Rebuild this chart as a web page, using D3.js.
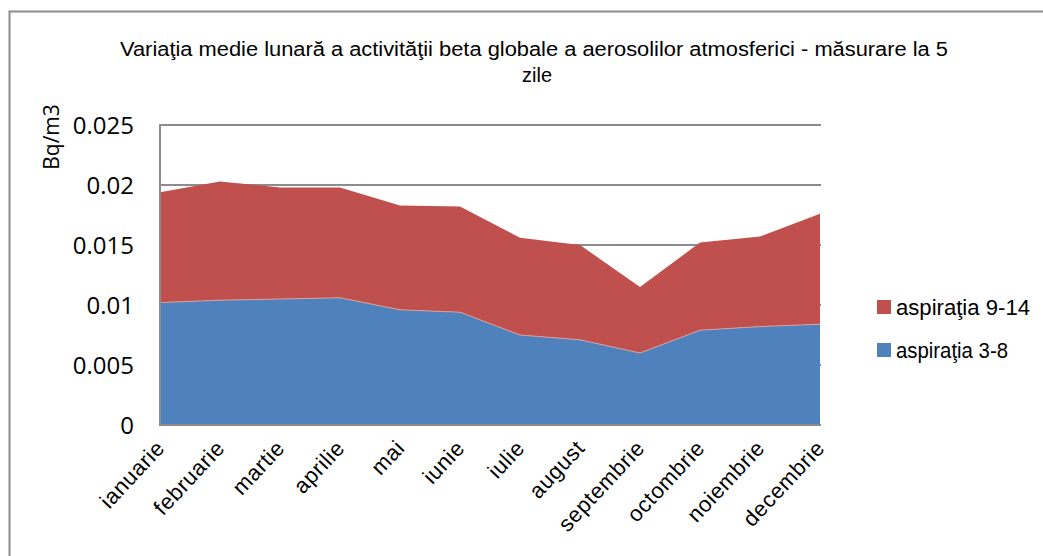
<!DOCTYPE html>
<html><head><meta charset="utf-8">
<script src="https://cdn.jsdelivr.net/npm/d3@7"></script>
<style>body{margin:0;background:#fff}svg{display:block}</style>
</head><body>
<svg id="c" width="1043" height="556"></svg>
<script>
const months = ["ianuarie","februarie","martie","aprilie","mai","iunie","iulie","august","septembrie","octombrie","noiembrie","decembrie"];
const asp38 = [0.0102,0.0104,0.0105,0.0106,0.0096,0.0094,0.0075,0.0071,0.0060,0.0079,0.0082,0.0084];
const asp914 = [0.0092,0.0099,0.0093,0.0092,0.0087,0.0088,0.0081,0.0079,0.0055,0.0073,0.0075,0.0092];
const yTicks = [0,0.005,0.01,0.015,0.02,0.025];
const seriesNames = ["aspiraţia 3-8","aspiraţia 9-14"];
const colors = ["#4F81BD","#C0504D"];
const title1 = "Variaţia medie lunară a activităţii beta globale a aerosolilor atmosferici  - măsurare la 5";
const title2 = "zile";

const svg = d3.select("#c");
const L=160,R=820,T=125,B=425;
const x = d3.scalePoint().domain(months).range([L,R]);
const y = d3.scaleLinear().domain([0,0.025]).range([B,T]);

// outer border
svg.append("path").attr("d","M9.5,560V11.5H1043").attr("fill","none").attr("stroke","#8c8c8c").attr("stroke-width",2);

// gridlines
svg.append("g").selectAll("line").data(yTicks.slice(1)).join("line")
  .attr("x1",L).attr("x2",R+1).attr("y1",d=>y(d)).attr("y2",d=>y(d))
  .attr("stroke","#8c8c8c").attr("stroke-width",2);

// stacked areas
const rows = months.map((m,i)=>({m, a:asp38[i], b:asp914[i]}));
const stack = d3.stack().keys(["a","b"])(rows);
const area = d3.area().x(d=>x(d.data.m)).y0(d=>y(d[0])).y1(d=>y(d[1]));
svg.append("g").selectAll("path").data(stack).join("path")
  .attr("d",area).attr("fill",(d,i)=>colors[i]);
svg.append("path").datum(stack[0])
  .attr("d",d3.line().x(d=>x(d.data.m)).y(d=>y(d[1])))
  .attr("fill","none").attr("stroke","#d9a0a0").attr("stroke-width",1);

// axes lines
svg.append("line").attr("x1",L).attr("x2",L).attr("y1",T-1).attr("y2",B+1).attr("stroke","#8c8c8c").attr("stroke-width",2);
svg.append("line").attr("x1",L-1).attr("x2",R+1).attr("y1",B).attr("y2",B).attr("stroke","#8c8c8c").attr("stroke-width",2);

// y tick labels
svg.append("g").selectAll("text").data(yTicks).join("text")
  .attr("x",134).attr("y",d=>y(d)+9).attr("text-anchor","end")
  .attr("font-family","'Open Sans',sans-serif").attr("font-size",24).attr("fill","#000")
  .text(d=>d===0?"0":String(d));

// y title
svg.append("text").attr("transform","translate(59,137) rotate(-90)").attr("text-anchor","middle")
  .attr("font-family","'Open Sans',sans-serif").attr("font-size",21).text("Bq/m3");

// x labels
svg.append("g").selectAll("text").data(months).join("text")
  .attr("transform",d=>`translate(${x(d)+6},${B+24}) rotate(-47)`)
  .attr("text-anchor","end")
  .attr("font-family","'Liberation Sans',Arial,sans-serif").attr("font-size",22)
  .attr("letter-spacing",0.6).attr("fill","#000")
  .text(d=>d);

// title
svg.append("text").attr("x",534).attr("y",56).attr("text-anchor","middle")
  .attr("font-family","'Liberation Sans',Arial,sans-serif").attr("font-size",20)
  .attr("textLength",828).attr("lengthAdjust","spacingAndGlyphs").text(title1);
svg.append("text").attr("x",537).attr("y",82).attr("text-anchor","middle")
  .attr("font-family","'Liberation Sans',Arial,sans-serif").attr("font-size",20)
  .attr("textLength",30).attr("lengthAdjust","spacingAndGlyphs").text(title2);

// legend
const leg = [{n:seriesNames[1],c:colors[1],y:300},{n:seriesNames[0],c:colors[0],y:343}];
const lg = svg.append("g").selectAll("g").data(leg).join("g");
lg.append("rect").attr("x",877).attr("y",d=>d.y).attr("width",14).attr("height",14).attr("fill",d=>d.c);
lg.append("text").attr("x",896).attr("y",d=>d.y+15).attr("font-family","'Liberation Sans',Arial,sans-serif")
  .attr("font-size",22).attr("textLength",134).attr("lengthAdjust","spacingAndGlyphs").text(d=>d.n)
  .filter(d=>d.n===seriesNames[0]).attr("textLength",112);
</script>
</body></html>
